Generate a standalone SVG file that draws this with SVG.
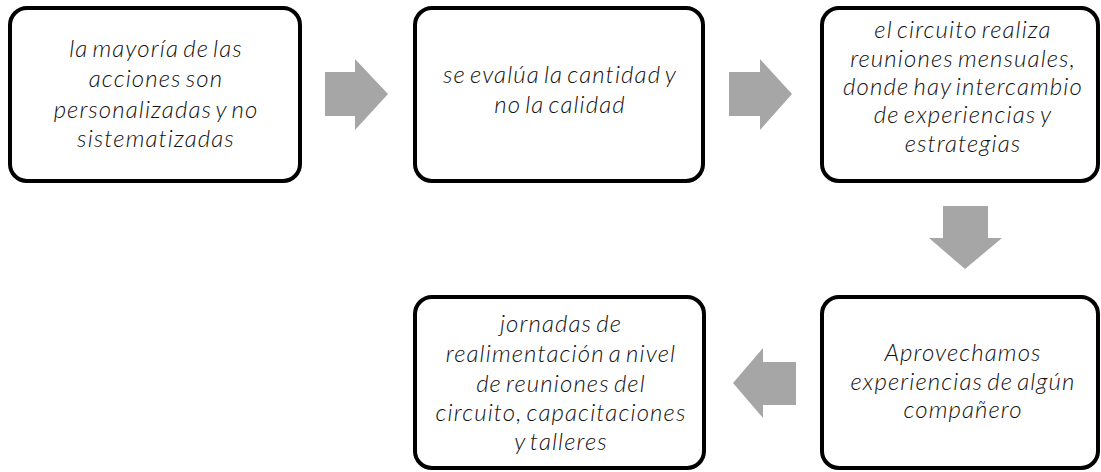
<svg xmlns="http://www.w3.org/2000/svg" width="1101" height="472" viewBox="0 0 1101 472">
<style>
.box{fill:#fff;stroke:#000;stroke-width:4}
.t{font-family:Lato,"Open Sans","Liberation Sans",sans-serif;font-style:italic;font-weight:300;font-size:24px;letter-spacing:1.1px;word-spacing:-3px;fill:#111;text-anchor:middle}
.arr{fill:#a6a6a6}
</style>
<rect width="1101" height="472" fill="#fff"/>
<g id="connectors">
<polygon class="arr" points="325,72 355,72 355,59 388,94 355,130 355,116 325,116"/>
<polygon class="arr" points="729,72 760,72 760,59 792,94 760,130 760,116 729,116"/>
<polygon class="arr" points="943,206 988,206 988,238 1002,238 965,269 929,238 943,238"/>
<polygon class="arr" points="796,362 763,362 763,348 733,383 763,418 763,405 796,405"/>
</g>
<g id="n1">
<rect class="box" x="10" y="8" width="290" height="173" rx="17"/>
<text class="t" x="156" y="57">la mayoría de las</text>
<text class="t" x="156" y="87">acciones son</text>
<text class="t" x="156" y="118">personalizadas y no</text>
<text class="t" x="156" y="147">sistematizadas</text>
</g>
<g id="n2">
<rect class="box" x="415" y="8" width="288" height="173" rx="17"/>
<text class="t" x="560" y="83">se evalúa la cantidad y</text>
<text class="t" x="560" y="113">no la calidad</text>
</g>
<g id="n3">
<rect class="box" x="822" y="8" width="276" height="173" rx="17"/>
<text class="t" x="963" y="38">el circuito realiza</text>
<text class="t" x="963" y="67">reuniones mensuales,</text>
<text class="t" x="963" y="95">donde hay intercambio</text>
<text class="t" x="963" y="123">de experiencias y</text>
<text class="t" x="963" y="152">estrategias</text>
</g>
<g id="n4">
<rect class="box" x="822" y="297" width="276" height="171" rx="17"/>
<text class="t" x="963" y="361">Aprovechamos</text>
<text class="t" x="963" y="390">experiencias de algún</text>
<text class="t" x="963" y="418">compañero</text>
</g>
<g id="n5">
<rect class="box" x="415" y="297" width="289" height="171" rx="17"/>
<text class="t" x="561" y="332">jornadas de</text>
<text class="t" x="561" y="362">realimentación a nivel</text>
<text class="t" x="561" y="392">de reuniones del</text>
<text class="t" x="561" y="421">circuito, capacitaciones</text>
<text class="t" x="561" y="450">y talleres</text>
</g>
</svg>
